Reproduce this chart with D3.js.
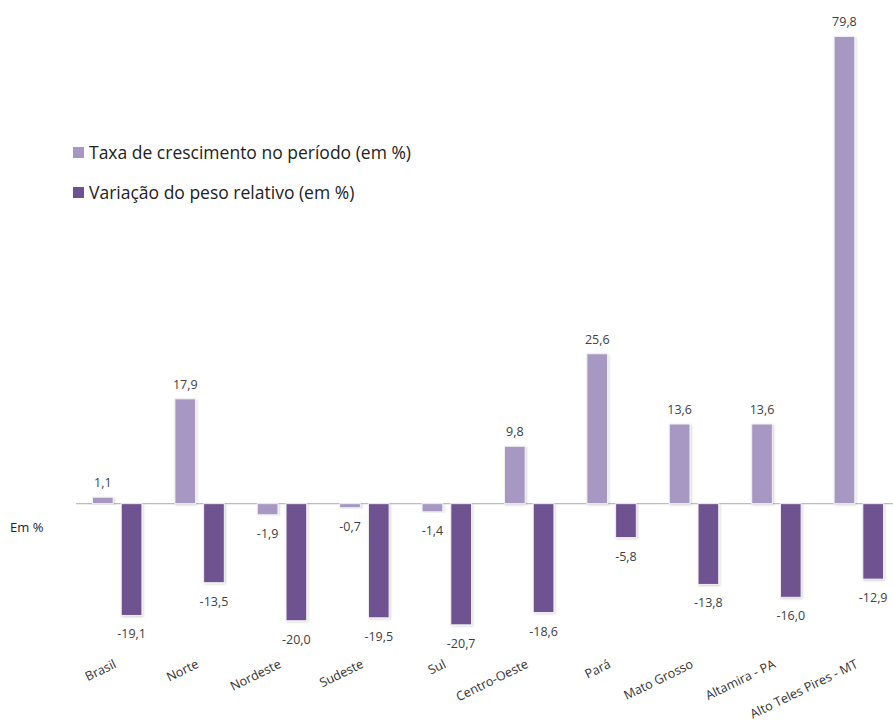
<!DOCTYPE html>
<html><head><meta charset="utf-8">
<script src="https://cdn.jsdelivr.net/npm/d3@7"></script>
<style>body{margin:0;background:#fff}svg{display:block}</style>
</head><body>
<svg id="c" width="893" height="724"></svg>
<script>
const categories = ["Brasil","Norte","Nordeste","Sudeste","Sul","Centro-Oeste","Pará","Mato Grosso","Altamira - PA","Alto Teles Pires - MT"];
const taxaCrescimento = [1.1, 17.9, -1.9, -0.7, -1.4, 9.8, 25.6, 13.6, 13.6, 79.8];
const variacaoPeso = [-19.1, -13.5, -20.0, -19.5, -20.7, -18.6, -5.8, -13.8, -16.0, -12.9];
const seriesNames = ["Taxa de crescimento no período (em %)", "Variação do peso relativo (em %)"];
const seriesColors = ["#A698C2", "#6E5290"];
const yAxisLabel = "Em %";

const svg = d3.select("#c");
const font = "'Open Sans', sans-serif";
const x0 = d3.scaleBand().domain(categories).range([76, 900]).paddingInner(0.4).paddingOuter(0.2);
const x1 = d3.scaleBand().domain([0,1]).range([0, x0.bandwidth()]).paddingInner(0.28);
const y = d3.scaleLinear().domain([-25, 85]).range([650, 6]);

const defs = svg.append("defs");
const f = defs.append("filter").attr("id","sh").attr("x","-30%").attr("y","-10%").attr("width","160%").attr("height","120%");
f.append("feDropShadow").attr("dx",1).attr("dy",1).attr("stdDeviation",1).attr("flood-color","#000").attr("flood-opacity",0.18);

// zero axis line
svg.append("line").attr("x1",76).attr("x2",893).attr("y1",y(0)).attr("y2",y(0)).attr("stroke","#bdbdbd").attr("stroke-width",1.2);

const data = categories.map((c,i)=>({c, v:[taxaCrescimento[i], variacaoPeso[i]]}));
const fmt = v => d3.format(".1f")(v).replace(".", ",").replace("−","-");

const g = svg.selectAll("g.grp").data(data).join("g").attr("class","grp").attr("transform", d=>`translate(${x0(d.c)},0)`);
g.selectAll("rect").data(d=>d.v.map((v,k)=>({v,k}))).join("rect")
  .attr("x", d=>x1(d.k)).attr("width", x1.bandwidth())
  .attr("y", d=>y(Math.max(0,d.v))).attr("height", d=>Math.abs(y(d.v)-y(0)))
  .attr("fill", d=>seriesColors[d.k]).attr("stroke","#f2f2f2").attr("stroke-width",1)
  .attr("filter","url(#sh)");
g.selectAll("text").data(d=>d.v.map((v,k)=>({v,k}))).join("text")
  .attr("x", d=>x1(d.k)+x1.bandwidth()/2)
  .attr("y", d=> d.v>=0 ? y(d.v)-10 : y(d.v)+23)
  .attr("text-anchor","middle").attr("font-family",font).attr("font-size",12.5).attr("fill","#404040")
  .text(d=>fmt(d.v));

// category labels
svg.selectAll("text.cat").data(categories).join("text").attr("class","cat")
  .attr("transform", d=>`translate(${x0(d)+x0.bandwidth()/2},667) rotate(-26)`)
  .attr("text-anchor","end").attr("font-family",font).attr("font-size",12.6).attr("fill","#333")
  .text(d=>d);

// y label
svg.append("text").attr("x",10).attr("y",532).attr("font-family",font).attr("font-size",13).attr("fill","#222").text(yAxisLabel);

// legend
const lg = svg.selectAll("g.lg").data(seriesNames).join("g").attr("class","lg").attr("transform",(d,i)=>`translate(73,${152+i*40})`);
lg.append("rect").attr("x",0).attr("y",-5).attr("width",11).attr("height",11).attr("fill",(d,i)=>seriesColors[i]);
lg.append("text").attr("x",16).attr("y",6.5).attr("font-family",font).attr("font-size",17.5).attr("fill","#222").text(d=>d);
</script>
</body></html>
